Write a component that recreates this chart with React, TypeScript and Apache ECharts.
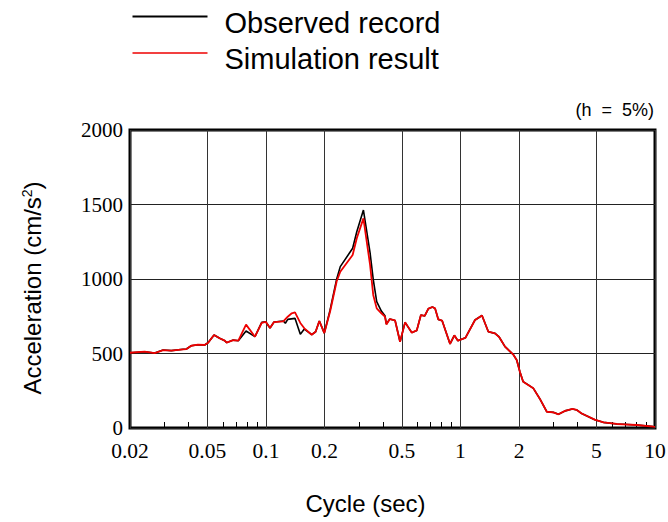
import React, { useEffect, useRef } from "react";
import * as echarts from "echarts";

// Response spectrum (h = 5%) — period (sec) vs acceleration (cm/s^2)
const seriesNames = ["Observed record", "Simulation result"];
const seriesColors = ["#000000", "#ee0000"];

const obsPeriod = [
  0.02, 0.0238, 0.0268, 0.0296, 0.0326, 0.0375, 0.039, 0.0413, 0.0447, 0.0484,
  0.0504, 0.0541, 0.0578, 0.0614, 0.0628, 0.0679, 0.0721, 0.079, 0.0878, 0.0951,
  0.0997, 0.1049, 0.11, 0.1228, 0.1258, 0.1294, 0.141, 0.1502, 0.1575, 0.1719,
  0.18, 0.1881, 0.1995, 0.2135, 0.231, 0.241, 0.279, 0.293, 0.317, 0.343,
  0.356, 0.371, 0.392, 0.409, 0.416, 0.433, 0.461, 0.489, 0.519, 0.562,
  0.596, 0.626, 0.655, 0.684, 0.717, 0.74, 0.769, 0.805, 0.884, 0.93,
  0.97, 1.06, 1.188, 1.29, 1.391, 1.505, 1.58, 1.694, 1.87, 1.946,
  2.02, 2.1, 2.23, 2.37, 2.56, 2.78, 3.0, 3.19, 3.45, 3.76,
  3.96, 4.2, 4.9, 5.43, 6.36, 6.88, 8.06, 9.81, 10,
];
const obsAccel = [
  505, 512, 503, 523, 519, 528, 530, 552, 559, 557,
  572, 624, 602, 586, 573, 590, 586, 651, 613, 709,
  713, 671, 711, 718, 703, 729, 736, 629, 664, 626,
  646, 718, 637, 790, 1000, 1083, 1206, 1317, 1463, 1175,
  997, 848, 785, 754, 698, 731, 722, 579, 709, 640,
  655, 758, 752, 801, 812, 803, 729, 720, 564, 622,
  586, 605, 725, 755, 646, 635, 611, 546, 492, 456,
  378, 311, 289, 266, 195, 109, 105, 92, 115, 128,
  121, 97, 56, 38, 27, 25, 20, 9, 8,
];

const simPeriod = [
  0.02, 0.0238, 0.0268, 0.0296, 0.0326, 0.0375, 0.039, 0.0413, 0.0447, 0.0484,
  0.0504, 0.0541, 0.0578, 0.0614, 0.0628, 0.0679, 0.0721, 0.079, 0.0878, 0.0951,
  0.0997, 0.1049, 0.11, 0.1228, 0.1294, 0.1357, 0.141, 0.1502, 0.1575, 0.1719,
  0.18, 0.1881, 0.1995, 0.2135, 0.231, 0.241, 0.279, 0.293, 0.317, 0.343,
  0.356, 0.371, 0.392, 0.409, 0.416, 0.433, 0.461, 0.489, 0.519, 0.562,
  0.596, 0.626, 0.655, 0.684, 0.717, 0.74, 0.769, 0.805, 0.884, 0.93,
  0.97, 1.06, 1.188, 1.29, 1.391, 1.505, 1.58, 1.694, 1.87, 1.946,
  2.02, 2.1, 2.23, 2.37, 2.56, 2.78, 3.0, 3.19, 3.45, 3.76,
  3.96, 4.2, 4.9, 5.43, 6.36, 6.88, 8.06, 9.81, 10,
];
const simAccel = [
  505, 512, 503, 523, 519, 528, 530, 552, 559, 557,
  572, 624, 602, 586, 573, 590, 586, 694, 613, 705,
  713, 671, 711, 716, 747, 770, 776, 705, 669, 626,
  646, 718, 637, 780, 985, 1049, 1161, 1273, 1407, 1094,
  893, 803, 770, 747, 695, 731, 722, 579, 709, 640,
  655, 758, 752, 801, 812, 803, 729, 720, 564, 622,
  586, 605, 725, 755, 646, 635, 611, 546, 492, 456,
  378, 311, 289, 266, 195, 109, 105, 92, 115, 128,
  121, 97, 56, 38, 27, 25, 20, 9, 8,
];

const xLabelValues = [0.02, 0.05, 0.1, 0.2, 0.5, 1, 2, 5, 10];
const xMinorTicks = [
  0.03, 0.04, 0.06, 0.07, 0.08, 0.09, 0.3, 0.4, 0.6, 0.7, 0.8, 0.9, 3, 4, 6, 7, 8, 9,
];
const yMin = 0;
const yMax = 2000;
const yInterval = 500;
const dampingNote = "(h  =  5%)";

const SANS = "'Liberation Sans', Arial, sans-serif";
const SERIF = "'Liberation Serif', 'Times New Roman', serif";

export default function App() {
  const ref = useRef<HTMLDivElement>(null);

  useEffect(() => {
    if (!ref.current) return;
    const chart = echarts.init(ref.current, undefined, { renderer: "svg" });

    const legendRows = seriesNames.map((name, i) => ({
      type: "group",
      left: 130,
      top: 8 + i * 36.5,
      children: [
        {
          type: "line",
          shape: { x1: 0, y1: 10.5, x2: 75, y2: 10.5 },
          style: { stroke: seriesColors[i], lineWidth: i === 0 ? 2 : 1.6 },
        },
        {
          type: "text",
          x: 92,
          y: 16.5,
          style: {
            text: name,
            fontFamily: SANS,
            fontSize: 29,
            fill: "#000",
            verticalAlign: "middle",
          },
        },
      ],
    }));

    chart.setOption({
      animation: false,
      backgroundColor: "#fff",
      grid: {
        left: 130,
        right: 13,
        top: 130,
        bottom: 94,
        show: true,
        borderColor: "#000",
        borderWidth: 3,
        backgroundColor: "transparent",
        outerBoundsMode: "none",
      },
      graphic: [
        ...legendRows,
        {
          type: "text",
          right: 14,
          top: 101,
          style: {
            text: dampingNote,
            fontFamily: SANS,
            fontSize: 18,
            fill: "#000",
          },
        },
      ],
      xAxis: [
        {
          type: "log",
          logBase: 10,
          min: 0.02,
          max: 10,
          position: "bottom",
          axisLine: { show: false },
          axisTick: { show: false, customValues: xLabelValues },
          axisLabel: {
            customValues: xLabelValues,
            formatter: (v: number) => String(v),
            fontFamily: SERIF,
            fontSize: 21.5,
            lineHeight: 16,
            color: "#000",
            margin: 15,
          },
          splitLine: { show: true, lineStyle: { color: "#333", width: 1 } },
          name: "Cycle (sec)",
          nameLocation: "middle",
          nameGap: 63,
          nameTextStyle: {
            fontFamily: SANS,
            fontSize: 24,
            color: "#000",
            padding: [0, 54, 0, 0],
          },
        },
        {
          type: "log",
          logBase: 10,
          min: 0.02,
          max: 10,
          position: "bottom",
          axisLine: { show: false },
          axisLabel: { show: false },
          splitLine: { show: false },
          axisTick: {
            show: true,
            inside: true,
            length: 6,
            customValues: xMinorTicks,
            lineStyle: { color: "#000", width: 1 },
          },
        },
      ],
      yAxis: {
        type: "value",
        min: yMin,
        max: yMax,
        interval: yInterval,
        axisLine: { show: false },
        axisTick: { show: false },
        axisLabel: {
          formatter: (v: number) => String(v),
          fontFamily: SERIF,
          fontSize: 21,
          lineHeight: 16,
          color: "#000",
          margin: 7,
        },
        splitLine: { show: true, lineStyle: { color: "#222", width: 1 } },
        name: "Acceleration (cm/s{sup|2})",
        nameLocation: "middle",
        nameRotate: 90,
        nameGap: 86,
        nameTextStyle: {
          fontFamily: SANS,
          fontSize: 24,
          color: "#000",
          padding: [0, 18, 0, 0],
          rich: {
            sup: {
              fontFamily: SANS,
              fontSize: 14,
              color: "#000",
              verticalAlign: "top",
              lineHeight: 14,
            },
          },
        },
      },
      series: [
        {
          name: seriesNames[0],
          type: "line",
          xAxisIndex: 0,
          data: obsPeriod.map((p, i) => [p, obsAccel[i]]),
          symbol: "none",
          showSymbol: false,
          lineStyle: { color: seriesColors[0], width: 1.6 },
          itemStyle: { color: seriesColors[0] },
          z: 3,
        },
        {
          name: seriesNames[1],
          type: "line",
          xAxisIndex: 0,
          data: simPeriod.map((p, i) => [p, simAccel[i]]),
          symbol: "none",
          showSymbol: false,
          lineStyle: { color: seriesColors[1], width: 1.8 },
          itemStyle: { color: seriesColors[1] },
          z: 4,
        },
      ],
    });
    return () => chart.dispose();
  }, []);

  return (
    <div
      ref={ref}
      style={{ position: "fixed", left: 0, top: 0, width: 668, height: 522, background: "#fff" }}
    />
  );
}
